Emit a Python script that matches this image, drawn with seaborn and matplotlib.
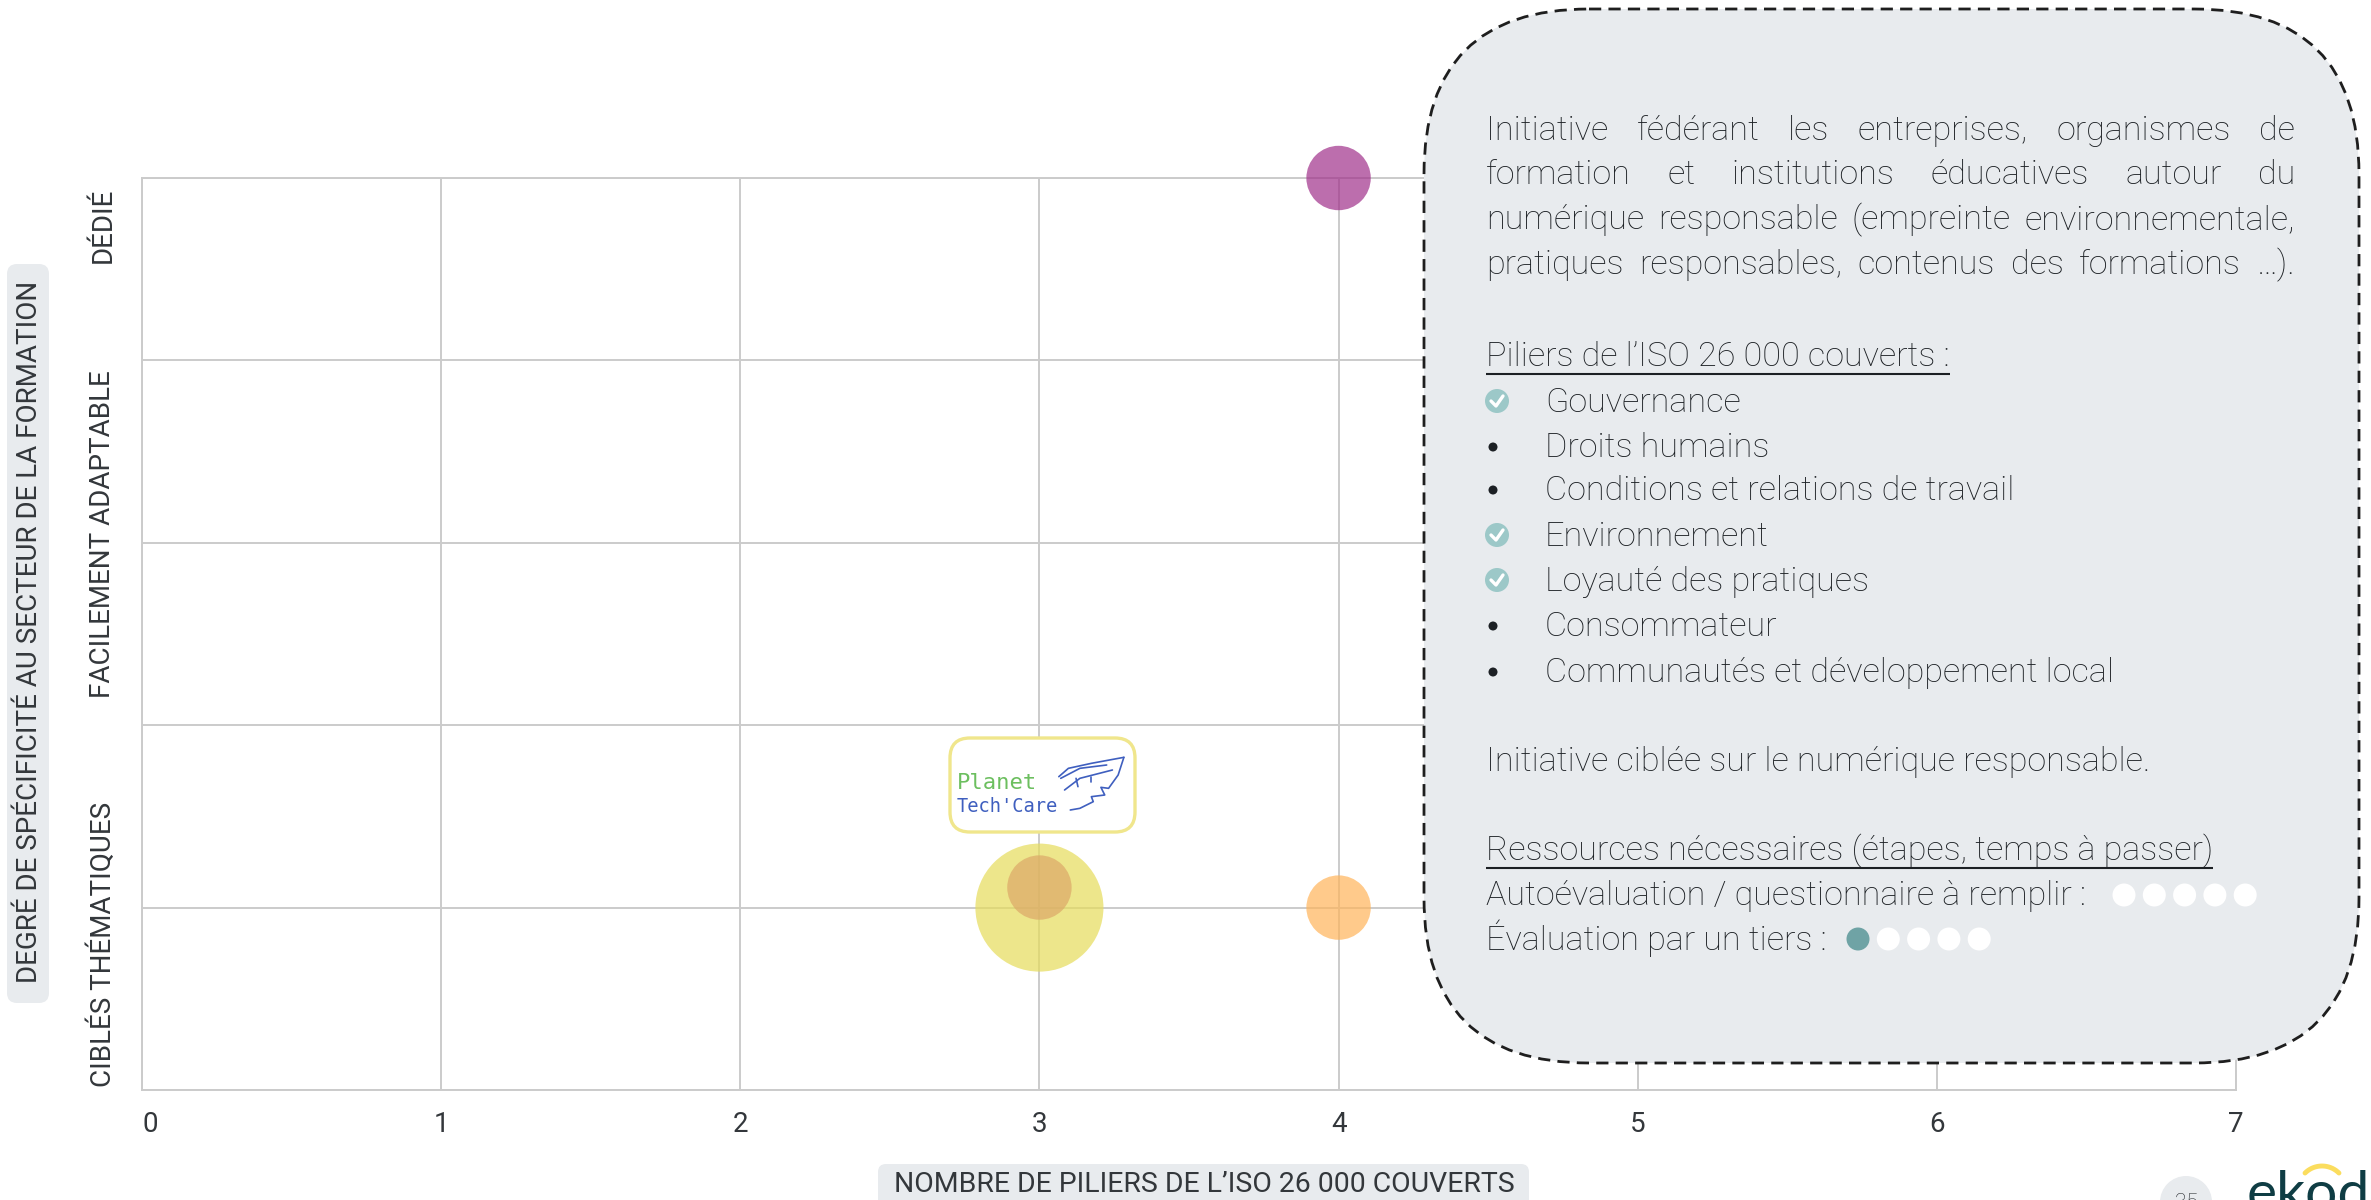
import numpy as np
import pandas as pd
import matplotlib
matplotlib.use("Agg")
import matplotlib.pyplot as plt
from matplotlib.patches import FancyBboxPatch, Circle
import seaborn as sns

# Données du graphique
outils = ["Dédié numérique", "Planet Tech'Care", "Ciblé orange", "Ciblé brun"]
piliers = [4, 3, 4, 3]
specificite = [5, 1, 1, 1.11]
tailles = [2150, 8500, 2150, 2150]
x_ticks = [0, 1, 2, 3, 4, 5, 6, 7]
y_ticks = [0, 1, 2, 3, 4, 5]
y_categories = ["CIBLÉS THÉMATIQUES", "FACILEMENT ADAPTABLE", "DÉDIÉ"]
y_categories_pos = [0.8, 3.05, 4.74]
x_titre = "NOMBRE DE PILIERS DE L’ISO 26 000 COUVERTS"
y_titre = "DEGRÉ DE SPÉCIFICITÉ AU SECTEUR DE LA FORMATION"

intro = ["Initiative fédérant les entreprises, organismes de",
         "formation et institutions éducatives autour du",
         "numérique responsable (empreinte environnementale,",
         "pratiques responsables, contenus des formations …)."]
piliers_titre = "Piliers de l’ISO 26 000 couverts :"
piliers_noms = ["Gouvernance", "Droits humains", "Conditions et relations de travail",
                "Environnement", "Loyauté des pratiques", "Consommateur",
                "Communautés et développement local"]
piliers_couverts = [True, False, False, True, True, False, False]
cible = "Initiative ciblée sur le numérique responsable."
ressources_titre = "Ressources nécessaires (étapes, temps à passer)"
auto_label = "Autoévaluation / questionnaire à remplir :"
tiers_label = "Évaluation par un tiers :"
auto_note = 0
tiers_note = 1

GRIS = "#E8EBEE"
TEXTE = "#1C2024"
AXE_TEXTE = "#33373B"
GRILLE = "#CBCBCB"
POLICE = ["Roboto", "DejaVu Sans"]
couleurs = {"Dédié numérique": "#A0308A", "Planet Tech'Care": "#E6DC5A",
            "Ciblé orange": "#FFB45A", "Ciblé brun": "#DCA868"}

sns.set_theme(style="whitegrid")
plt.rcParams["font.family"] = POLICE

fig = plt.figure(figsize=(23.71, 12), dpi=100, facecolor="white")
ax = fig.add_axes([142 / 2371, 1 - 1090 / 1200, (2236 - 142) / 2371, (1090 - 178) / 1200])

df = pd.DataFrame({"outil": outils, "piliers": piliers, "specificite": specificite})
df["taille"] = tailles
# grosse bulle d'abord, petite par dessus
df = df.sort_values("taille", ascending=False)
sns.scatterplot(data=df, x="piliers", y="specificite", hue="outil", palette=couleurs,
                size="outil", sizes=dict(zip(outils, tailles)), alpha=0.7, linewidth=0,
                legend=False, clip_on=False, zorder=3, ax=ax)

ax.set_xlim(0, 7)
ax.set_ylim(0, 5)
ax.set_xticks(x_ticks)
ax.set_yticks(y_ticks)
ax.set_yticklabels([])
ax.set_xlabel("")
ax.set_ylabel("")
ax.grid(True, color=GRILLE, linewidth=1.4)
ax.tick_params(axis="x", labelsize=20, pad=15, length=0, labelcolor=AXE_TEXTE)
ax.get_xticklabels()[0].set_ha("left")
for s in ax.spines.values():
    s.set_color(GRILLE)
    s.set_linewidth(1.4)

for nom, pos in zip(y_categories, y_categories_pos):
    ax.text(-39 / 299, pos, nom, rotation=90, ha="center", va="center", fontsize=20,
            color=AXE_TEXTE)

# Calque en pixels pour la bulle de texte, le logo et le pied de page
ov = fig.add_axes([0, 0, 1, 1], zorder=10)
ov.set_xlim(0, 2371)
ov.set_ylim(1200, 0)
ov.axis("off")
ov.patch.set_alpha(0)


def rounded(x0, y0, x1, y1, r, **kw):
    ov.add_patch(FancyBboxPatch((x0, y0), x1 - x0, y1 - y0,
                                boxstyle=f"round,pad=0,rounding_size={r}", **kw))


def body(x, y, s, **kw):
    kw.setdefault("fontsize", 24.6)
    kw.setdefault("color", TEXTE)
    kw.setdefault("fontweight", "light")
    return ov.text(x, y, s, ha="left", va="center", **kw)


# Titres d'axes
rounded(878, 1164, 1529, 1215, 8, fc=GRIS, ec="none")
ov.text(1204, 1184, x_titre, ha="center", va="center", fontsize=20.4, color=AXE_TEXTE)
rounded(7, 264, 49, 1003, 10, fc=GRIS, ec="none")
ov.text(30, 632, y_titre, rotation=90, ha="center", va="center", fontsize=20, color=AXE_TEXTE)

# Bulle de texte
rounded(1424, 9, 2359, 1063, 165, fc=GRIS, ec="#1E1E1E", lw=2.0, ls=(0, (4.4, 2.6)))

renderer = fig.canvas.get_renderer()
GAUCHE, DROITE = 1486, 2295
for y, ligne in zip([131, 175, 220, 265], intro):
    mots = [body(GAUCHE, y, m) for m in ligne.split()]
    largeurs = [t.get_window_extent(renderer).width for t in mots]
    espace = (DROITE - GAUCHE - sum(largeurs)) / (len(mots) - 1)
    x = GAUCHE
    for t, w in zip(mots, largeurs):
        t.set_x(x)
        x += w + espace


def souligne(x, y, s):
    t = body(x, y, s)
    w = t.get_window_extent(renderer).width
    ov.plot([x, x + w], [y + 17, y + 17], color=TEXTE, lw=1.5, solid_capstyle="butt")


souligne(GAUCHE, 357, piliers_titre)
for y, nom, ok in zip([400, 445, 488, 534, 579, 624, 670], piliers_noms, piliers_couverts):
    body(1545, y + 3, nom)
    if ok:
        ov.add_patch(Circle((1497, y + 1), 12, fc="#9CC8C8", ec="none"))
        ov.plot([1491, 1496, 1503], [y + 1, y + 6, y - 4], color="white", lw=2.4)
    else:
        ov.add_patch(Circle((1493, y + 2), 4.5, fc=TEXTE, ec="none"))

body(GAUCHE, 762, cible)
souligne(GAUCHE, 851, ressources_titre)
body(GAUCHE, 896, auto_label)
body(GAUCHE, 938, tiers_label)
for y, x0, note in [(895, 2124, auto_note), (939, 1858, tiers_note)]:
    for i in range(5):
        ov.add_patch(Circle((x0 + i * 30.3, y), 11.5, fc="#6FA3A5" if i < note else "white", ec="none"))

# Logo Planet Tech'Care
rounded(950, 738, 1135, 832, 20, fc="white", ec="#F0E68C", lw=2.4, zorder=4)
ov.text(957, 783, "Planet", family="DejaVu Sans Mono", fontsize=16, color="#6CBF5F", ha="left", va="center", zorder=5)
ov.text(957, 806, "Tech'Care", family="DejaVu Sans Mono", fontsize=13.5, color="#3F5FBF", ha="left", va="center", zorder=5)
feuille = [
    [(585, 172), (500, 190), (440, 205), (415, 230)],
    [(585, 172), (570, 225), (545, 265), (525, 262), (535, 285), (500, 290), (505, 305), (470, 325), (445, 330)],
    [(430, 270), (470, 235), (555, 210)],
    [(420, 235), (470, 205), (540, 195)],
    [(460, 235), (465, 260)],
    [(500, 230), (500, 245)],
]
for trait in feuille:
    px = [900 + a / 2.613 for a, b in trait]
    py = [700 + b / 3 for a, b in trait]
    ov.plot(px, py, color="#3F5FBF", lw=1.2, zorder=5)

# Pied de page
ov.add_patch(Circle((2186, 1202), 26, fc=GRIS, ec="none"))
ov.text(2186, 1203, "35", ha="center", va="center", fontsize=15, color=TEXTE, fontweight="light")
ov.text(2247, 1211, "ekod", ha="left", va="baseline", fontsize=41, color="#0F3D44", family="Lato")
arc = np.linspace(np.pi * 0.25, np.pi * 0.75, 20)
ov.plot(2322 + 24 * np.cos(arc), 1190 - 24 * np.sin(arc), color="#FBDD5E", lw=3.5)

fig.savefig("out.png", dpi=100)
